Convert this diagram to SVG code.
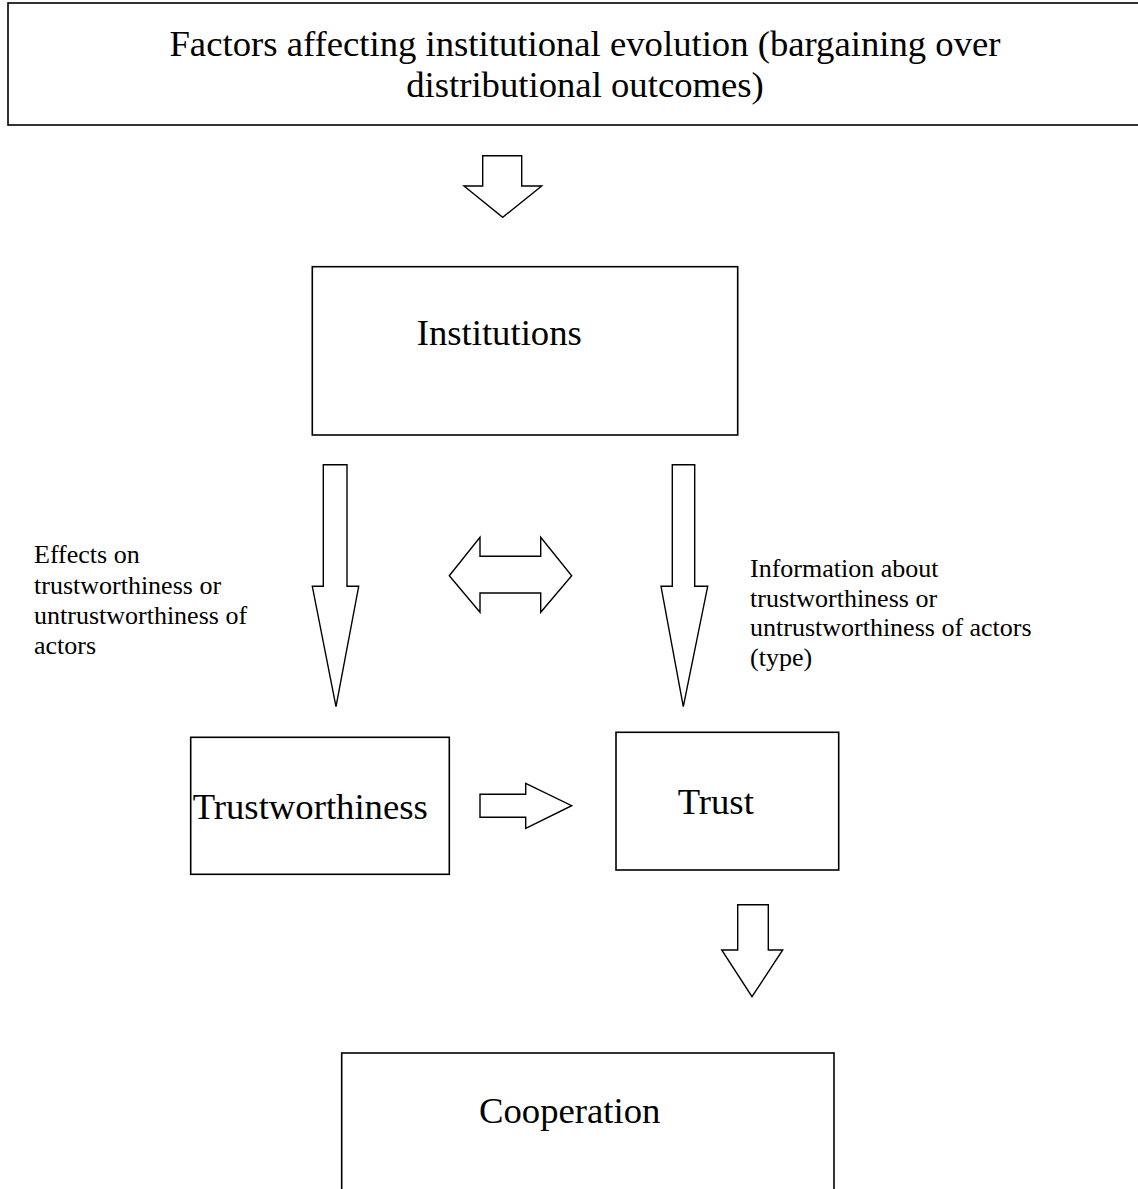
<svg xmlns="http://www.w3.org/2000/svg" width="1138" height="1189" viewBox="0 0 1138 1189">
<style>
.box{fill:#fff;stroke:#000;stroke-width:1.6}
.arr{fill:#fff;stroke:#000;stroke-width:1.4;stroke-linejoin:miter}
.big{font-family:"Liberation Serif","Times New Roman",serif;font-size:36.7px;fill:#000}
.small{font-family:"Liberation Serif","Times New Roman",serif;font-size:26px;fill:#000}
</style>
<rect width="1138" height="1189" fill="#fff"/>
<g id="factors">
<rect class="box" x="8" y="3" width="1160" height="122"/>
<text class="big" x="585" y="56" text-anchor="middle">Factors affecting institutional evolution (bargaining over</text>
<text class="big" x="585" y="97" text-anchor="middle">distributional outcomes)</text>
</g>
<g id="institutions">
<rect class="box" x="312.3" y="266.7" width="425.4" height="168.3"/>
<text class="big" x="416.7" y="345">Institutions</text>
</g>
<g id="trustworthiness">
<rect class="box" x="190.7" y="737.3" width="258.6" height="137"/>
<text class="big" x="192.7" y="819.3">Trustworthiness</text>
</g>
<g id="trust">
<rect class="box" x="616" y="732.3" width="222.7" height="137.7"/>
<text class="big" x="677.7" y="814.3">Trust</text>
</g>
<g id="cooperation">
<rect class="box" x="341.7" y="1053" width="492.3" height="160"/>
<text class="big" x="479" y="1123.3">Cooperation</text>
</g>
<g id="label-effects">
<text class="small" x="34" y="563.3">Effects on</text>
<text class="small" x="34" y="593.6">trustworthiness or</text>
<text class="small" x="34" y="623.9">untrustworthiness of</text>
<text class="small" x="34" y="654.2">actors</text>
</g>
<g id="label-information">
<text class="small" x="750" y="576.7">Information about</text>
<text class="small" x="750" y="606.5">trustworthiness or</text>
<text class="small" x="750" y="636.3">untrustworthiness of actors</text>
<text class="small" x="750" y="666.1">(type)</text>
</g>
<g id="connectors">
<polygon class="arr" points="482.7,155.7 521.7,155.7 521.7,186 541.7,186 502.7,217.3 464,186 482.7,186"/>
<polygon class="arr" points="323.3,464.7 347,464.7 347,586.3 358.7,586.3 336,706.7 312.3,586.3 323.3,586.3"/>
<polygon class="arr" points="672.3,464.7 694.7,464.7 694.7,586.3 707.7,586.3 683.3,706.7 661,586.3 672.3,586.3"/>
<polygon class="arr" points="449.3,575.7 480,537.3 480,556.3 540.7,556.3 540.7,537.3 571.7,575.7 540.7,612.3 540.7,593 480,593 480,612.3"/>
<polygon class="arr" points="480,794.3 525.7,794.3 525.7,783.3 571.7,805.7 525.7,828.3 525.7,817.3 480,817.3"/>
<polygon class="arr" points="737.7,904.7 768.3,904.7 768.3,950 782.7,950 752,996.7 721.7,950 737.7,950"/>
</g>
</svg>
